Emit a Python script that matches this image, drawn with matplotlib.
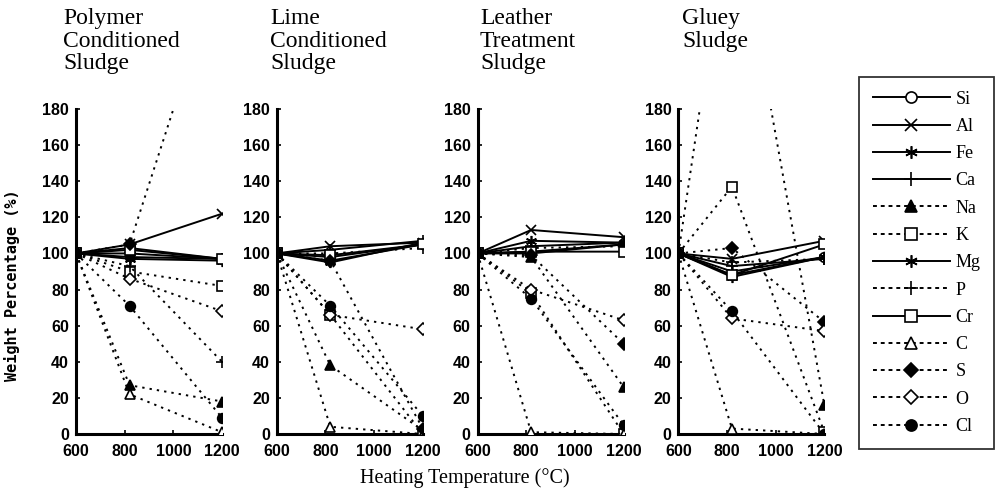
import matplotlib
matplotlib.use("Agg")
import matplotlib.pyplot as plt
from matplotlib.lines import Line2D

# heating temperatures (the middle sample sits a bit right of the 800 tick)
temps = [600, 820, 1200]

panel_titles = ["Polymer\nConditioned\nSludge", "Lime\nConditioned\nSludge",
                "Leather\nTreatment\nSludge", "Gluey\nSludge"]
title_x = [63, 270, 480, 682]

elements = ["Si", "Al", "Fe", "Ca", "Na", "K", "Mg", "P", "Cr", "C", "S", "O", "Cl"]

# weight percentage (%) per element, one dict per panel
polymer = {
    "Si": [100, 103, 97], "Al": [100, 105, 122], "Fe": [100, 98, 97],
    "Ca": [100, 100, 97], "Na": [100, 27, 18], "K": [100, 90, 82],
    "Mg": [100, 97, 96], "P": [100, 93, 40], "Cr": [100, 102, 97],
    "C": [100, 22, 1], "S": [100, 105, 263], "O": [100, 86, 68],
    "Cl": [100, 71, 9],
}
lime = {
    "Si": [100, 98, 105], "Al": [100, 104, 106], "Fe": [100, 96, 105],
    "Ca": [100, 102, 107], "Na": [100, 38, 2], "K": [100, 66, 0],
    "Mg": [100, 95, 106], "P": [100, 100, 103], "Cr": [100, 99, 105],
    "C": [100, 4, 0], "S": [100, 96, 3], "O": [100, 66, 58],
    "Cl": [100, 71, 10],
}
leather = {
    "Si": [100, 101, 105], "Al": [100, 113, 109], "Fe": [100, 107, 106],
    "Ca": [100, 104, 106], "Na": [100, 98, 26], "K": [100, 78, 0],
    "Mg": [100, 100, 105], "P": [100, 103, 104], "Cr": [100, 101, 101],
    "C": [100, 1, 0], "S": [100, 99, 50], "O": [100, 80, 63],
    "Cl": [100, 75, 5],
}
gluey = {
    "Si": [100, 88, 98], "Al": [100, 97, 107], "Fe": [100, 90, 98],
    "Ca": [100, 93, 97], "Na": [100, 300, 16], "K": [100, 137, 1],
    "Mg": [100, 87, 98], "P": [100, 95, 97], "Cr": [100, 88, 105],
    "C": [100, 3, 0], "S": [100, 103, 62], "O": [100, 64, 57],
    "Cl": [100, 68, 0],
}
panels = [polymer, lime, leather, gluey]

yticks = [0, 20, 40, 60, 80, 100, 120, 140, 160, 180]
xticks = [600, 800, 1000, 1200]

dots = (0, (1.2, 2.6))
style = {
    "Si": ("-", "o", "white"), "Al": ("-", "x", "black"),
    "Fe": ("-", (6, 2, 0), "black"), "Ca": ("-", "+", "black"),
    "Na": (dots, "^", "black"), "K": (dots, "s", "white"),
    "Mg": ("-", (6, 2, 0), "black"), "P": (dots, "+", "black"),
    "Cr": ("-", "s", "white"), "C": (dots, "^", "white"),
    "S": (dots, "D", "black"), "O": (dots, "D", "white"),
    "Cl": (dots, "o", "black"),
}
msize = {"o": 7, "x": 7, "+": 9, "^": 7, "s": 7, "D": 6, (6, 2, 0): 8}

tick_font = "Liberation Sans"
serif = "Liberation Serif"

fig = plt.figure(figsize=(10, 4.92), dpi=100)

W, H = 1000, 492
left0, step, width = 76, 200.8, 146
top, bottom = 109, 434

for i, data in enumerate(panels):
    ax = fig.add_axes([(left0 + i * step) / W, (H - bottom) / H,
                       width / W, (bottom - top) / H])
    for el in elements:
        ls, mk, fc = style[el]
        ax.plot(temps, data[el], color="black", linestyle=ls, linewidth=1.4,
                marker=mk, markersize=msize[mk], markerfacecolor=fc,
                markeredgecolor="black", markeredgewidth=1.2, zorder=3)
    ax.set_xlim(600, 1200)
    ax.set_ylim(0, 180)
    ax.set_xticks(xticks)
    ax.set_yticks(yticks)
    ax.set_xticklabels([str(t) for t in xticks], fontfamily=tick_font,
                       fontsize=11.5, fontweight="bold")
    ax.set_yticklabels([str(t) for t in yticks], fontfamily=tick_font,
                       fontsize=11.5, fontweight="bold")
    ax.tick_params(axis="y", direction="in", length=3, width=1.2, pad=5)
    ax.tick_params(axis="x", direction="in", length=3, width=1.2, pad=7)
    for s in ["top", "right"]:
        ax.spines[s].set_visible(False)
    for s in ["left", "bottom"]:
        ax.spines[s].set_linewidth(2.2)
    fig.text(title_x[i] / W, 1 - 8 / H, panel_titles[i], ha="left", va="top",
             fontfamily=serif, fontsize=17, linespacing=1.1)
    if i == 0:
        ax.set_ylabel("Weight Percentage (%)", fontfamily="DejaVu Sans Mono",
                      fontsize=11, fontweight="bold")
        ax.yaxis.set_label_coords((20 - left0) / width, (bottom - 285) / (bottom - top))

fig.text(465 / W, 1 - 478 / H, "Heating Temperature (°C)", ha="center",
         va="center", fontfamily=serif, fontsize=14.5)

handles = []
for el in elements:
    ls, mk, fc = style[el]
    legls = "-" if ls == "-" else (0, (2, 2))
    handles.append(Line2D([], [], color="black", linestyle=legls, linewidth=1.4,
                          marker=mk, markersize=msize[mk] + 1, markerfacecolor=fc,
                          markeredgecolor="black", markeredgewidth=1.2))
leg = fig.legend(handles, elements, loc="upper left",
                 bbox_to_anchor=(859 / W, 1 - 77 / H), frameon=True,
                 fancybox=False, edgecolor="black", handlelength=4.3,
                 handletextpad=0.3, labelspacing=0.57, borderpad=0.75,
                 borderaxespad=0, prop={"family": serif, "size": 13})
leg.get_frame().set_linewidth(1.3)

fig.savefig("out.png", dpi=100)
